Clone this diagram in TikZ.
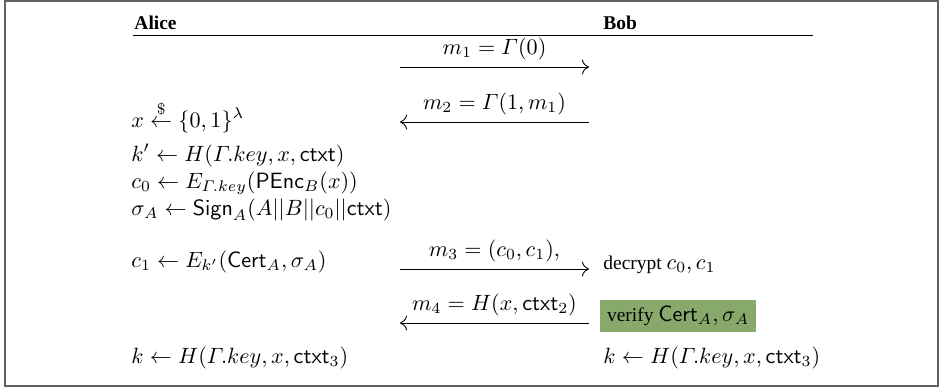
\documentclass[tikz,border=0pt]{standalone}
\usepackage{amsmath}
\usepackage[no-math]{fontspec}
\setmainfont[Scale=0.88]{Liberation Serif}
\usetikzlibrary{arrows.meta}
\definecolor{verigreen}{RGB}{136,169,108}
\newcommand{\ctxt}{\mathsf{ctxt}}
\newcommand{\gkey}{\varGamma.key}
\begin{document}
\begin{tikzpicture}[font=\fontsize{10}{12}\selectfont,x=0.452pt,y=-0.452pt,>={To[scale=1.3]}]
\useasboundingbox (0,0) rectangle (940,387);
\draw[gray!75!black,line width=0.9pt] (5,1) rectangle (938,386);
% header
\node[anchor=base west,font=\bfseries,inner sep=0pt] at (134,29) (alice) {Alice};
\node[anchor=base west,font=\bfseries,inner sep=0pt] at (603,29) (bob) {Bob};
\draw (133,35)--(813,35);
% message end points
\coordinate (a1) at (400,67);\coordinate (b1) at (589,67);
\coordinate (a2) at (400,122);\coordinate (b2) at (589,122);
\coordinate (a3) at (400,269);\coordinate (b3) at (589,269);
\coordinate (a4) at (400,323);\coordinate (b4) at (589,323);
\draw[->] (a1)--(b1) node[midway,above] (m1) {$m_1=\varGamma(0)$};
\draw[->] (b2)--(a2) node[midway,above] (m2) {$m_2=\varGamma(1,m_1)$};
\draw[->] (a3)--(b3) node[midway,above] (m3) {$m_3=(c_0,c_1),$};
\draw[->] (b4)--(a4) node[midway,above] (m4) {$m_4=H(x,\ctxt_2)$};
% Alice
\node[anchor=base west,inner sep=0pt] at (131,127) (xa) {$x\overset{\$}{\leftarrow}\{0,1\}^{\lambda}$};
\node[anchor=base west,inner sep=0pt] at (131,161) (ka) {$k'\leftarrow H(\gkey,x,\ctxt)$};
\node[anchor=base west,inner sep=0pt] at (131,188) (c0) {$c_0\leftarrow E_{\gkey}(\mathsf{PEnc}_B(x))$};
\node[anchor=base west,inner sep=0pt] at (131,215) (sa) {$\sigma_A\leftarrow\mathsf{Sign}_A(A||B||c_0||\ctxt)$};
\node[anchor=base west,inner sep=0pt] at (131,267) (c1) {$c_1\leftarrow E_{k'}(\mathsf{Cert}_A,\sigma_A)$};
\node[anchor=base west,inner sep=0pt] at (131,363) (kA) {$k\leftarrow H(\gkey,x,\ctxt_3)$};
% Bob
\node[anchor=base west,inner sep=0pt] at (603,269) (dec) {decrypt $c_0,c_1$};
\node[anchor=west,fill=verigreen,inner xsep=3pt,inner ysep=2.6pt] at (600,316) (ver) {verify $\mathsf{Cert}_A,\sigma_A$};
\node[anchor=base west,inner sep=0pt] at (603,363) (kB) {$k\leftarrow H(\gkey,x,\ctxt_3)$};
\end{tikzpicture}
\end{document}
